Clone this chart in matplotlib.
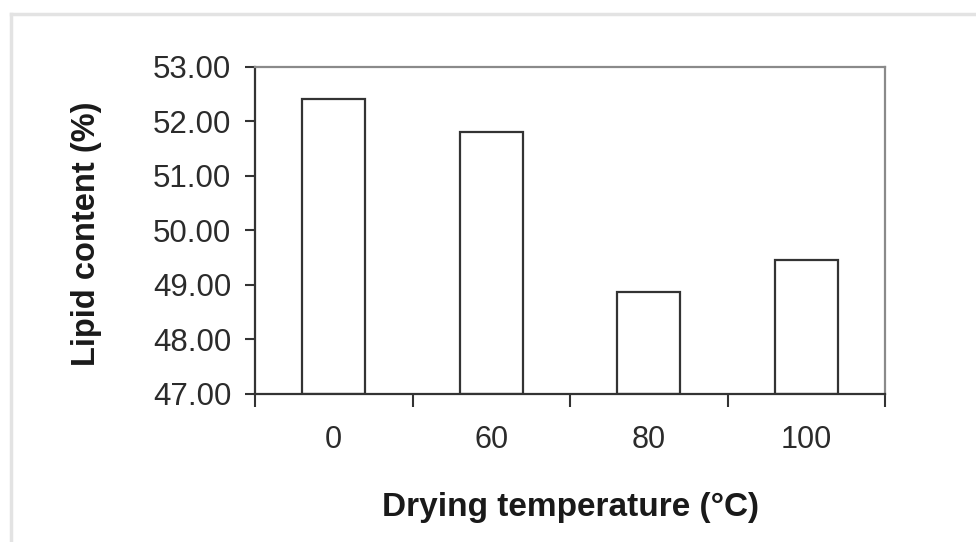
import numpy as np
import matplotlib
matplotlib.use("Agg")
import matplotlib.pyplot as plt
from matplotlib.lines import Line2D
from matplotlib.ticker import FormatStrFormatter

# drying temperature groups and measured lipid content
temps = ["0", "60", "80", "100"]
lipid = [52.42, 51.80, 48.87, 49.46]

plt.rcParams['font.family'] = ['Liberation Sans', 'DejaVu Sans']

fig = plt.figure(figsize=(9.76, 5.42), dpi=100)
ax = fig.add_axes([0.2613, 0.2731, 0.6455, 0.6033])

x = np.arange(len(temps))
ax.bar(x, np.array(lipid) - 47, bottom=47, width=0.4, color="white",
       edgecolor="#333333", linewidth=1.6)

ax.set_xlim(-0.5, len(temps) - 0.5)
ax.set_ylim(47, 53)
ax.set_yticks(np.arange(47, 53.5, 1))
ax.yaxis.set_major_formatter(FormatStrFormatter("%.2f"))

ax.set_xticks(x)
ax.set_xticklabels(temps)
ax.set_xticks(np.arange(-0.5, len(temps), 1), minor=True)
ax.tick_params(axis="x", which="major", length=0, pad=22, labelsize=22, colors="#2b2b2b")
ax.tick_params(axis="x", which="minor", length=9, width=1.5, color="#333333", direction="out")
ax.tick_params(axis="y", length=7, width=1.5, color="#333333", pad=10, labelsize=22.5,
               labelcolor="#2b2b2b")

for s in ["left", "bottom"]:
    ax.spines[s].set_color("#333333")
    ax.spines[s].set_linewidth(1.6)
for s in ["top", "right"]:
    ax.spines[s].set_color("#8a8a8a")
    ax.spines[s].set_linewidth(1.6)

ax.set_ylabel("Lipid content (%)", fontsize=23.5, fontweight="bold", color="#1a1a1a")
ax.yaxis.set_label_coords(-0.243, 0.49)
ax.set_xlabel("Drying temperature (\u00b0C)", fontsize=24, fontweight="bold", color="#1a1a1a",
              labelpad=27)

# faint frame around the picture
fig.add_artist(Line2D([11 / 976, 1], [1 - 14 / 542, 1 - 14 / 542], color="#e3e3e3", lw=2.5))
fig.add_artist(Line2D([11 / 976, 11 / 976], [0, 1 - 14 / 542], color="#e3e3e3", lw=2.5))

fig.savefig("out.png", dpi=100)
